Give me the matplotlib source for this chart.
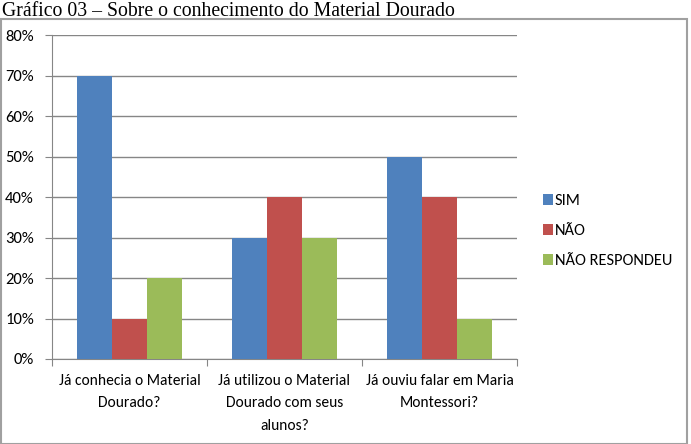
import matplotlib.pyplot as plt
import numpy as np
from matplotlib.patches import Rectangle

# Dados do gráfico
categorias = ['Já conhecia o Material\nDourado?',
              'Já utilizou o Material\nDourado com seus\nalunos?',
              'Já ouviu falar em Maria\nMontessori?']
sim = [70, 30, 50]
nao = [10, 40, 40]
nao_respondeu = [20, 30, 10]
series = ['SIM', 'NÃO', 'NÃO RESPONDEU']
cores = ['#4F81BD', '#C0504D', '#9BBB59']

plt.rcParams['font.family'] = ['Carlito', 'DejaVu Sans']

fig = plt.figure(figsize=(6.91, 4.44), dpi=100)
ax = fig.add_axes([52 / 691, 1 - 359 / 444, (517 - 52) / 691, (359 - 35) / 444])

# moldura do gráfico
fig.patches.append(Rectangle((0.5 / 691, 0), 686 / 691, 1 - 19.5 / 444,
                             transform=fig.transFigure, fill=False,
                             edgecolor='#A0A0A0', linewidth=1.5))

# título
fig.text(2 / 691, 1 - 15.5 / 444, 'Gráfico 03 – Sobre o conhecimento do Material Dourado',
         family='Liberation Serif', fontsize=14.2, va='baseline', ha='left')

x = np.arange(len(categorias))
largura = 0.226
for i, (valores, nome, cor) in enumerate(zip([sim, nao, nao_respondeu], series, cores)):
    ax.bar(x + (i - 1) * largura, valores, largura, color=cor, label=nome, zorder=3)

ax.set_xlim(-0.5, 2.5)
ax.set_ylim(0, 80)
ax.set_yticks(range(0, 81, 10))
ax.set_yticklabels([f'{v}%' for v in range(0, 81, 10)], fontsize=12)
ax.yaxis.grid(True, color='#868686', linewidth=1, zorder=0)

# marcas entre categorias
ax.set_xticks([-0.5, 0.5, 1.5, 2.5])
ax.set_xticklabels([])
ax.set_xticks(x, minor=True)
ax.set_xticklabels(categorias, minor=True, fontsize=11.2, linespacing=1.8)
ax.tick_params(axis='x', which='minor', length=0, pad=10.5)
ax.tick_params(axis='x', which='major', length=5, color='#868686')
ax.tick_params(axis='y', length=5, color='#868686', pad=8)

for lado in ['top', 'right']:
    ax.spines[lado].set_visible(False)
for lado in ['left', 'bottom']:
    ax.spines[lado].set_color('#868686')

ax.legend(loc='center left', bbox_to_anchor=(528 / 691, 1 - 231 / 444),
          bbox_transform=fig.transFigure, frameon=False, fontsize=11.8,
          handlelength=0.65, handleheight=0.65, handletextpad=0.1, labelspacing=0.98)

plt.savefig('out.png', dpi=100)
